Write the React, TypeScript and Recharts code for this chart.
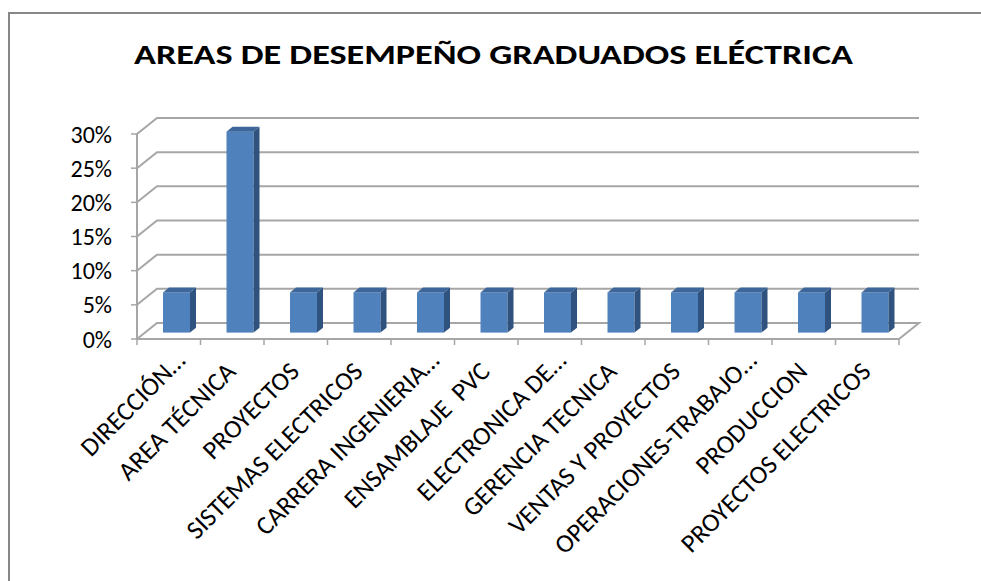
import React from "react";
import { BarChart, Bar, XAxis, YAxis, CartesianGrid } from "recharts";

// areas de desempeño (etiquetas tal como salen en el eje, ya recortadas)
const areas = [
  "DIRECCIÓN…",
  "AREA TÉCNICA",
  "PROYECTOS",
  "SISTEMAS ELECTRICOS",
  "CARRERA INGENIERIA…",
  "ENSAMBLAJE  PVC",
  "ELECTRONICA DE…",
  "GERENCIA TECNICA",
  "VENTAS Y PROYECTOS",
  "OPERACIONES-TRABAJO…",
  "PRODUCCION",
  "PROYECTOS ELECTRICOS",
];

// share of graduates per area (1/17 each, 5/17 for area tecnica)
const shares = [
  0.0588, 0.2941, 0.0588, 0.0588, 0.0588, 0.0588, 0.0588, 0.0588, 0.0588,
  0.0588, 0.0588, 0.0588,
];

const shareTicks = [0, 0.05, 0.1, 0.15, 0.2, 0.25, 0.3];

const chartTitle = "AREAS DE DESEMPEÑO GRADUADOS ELÉCTRICA";

const FONT = "Carlito, Lato, 'Open Sans', sans-serif";
const W = 981;
const H = 581;
const PLOT = { left: 137, right: 899, top: 134, bottom: 339 };
// offset of the back wall vs the front plane (fake 3d)
const WALL = { dx: 20, dy: 16 };
const BAR_SHIFT = 0.4;
const BAR_DEPTH = 0.3;
const GRID = "#a6a6a6";

const data = areas.map((area, i) => ({ area, share: shares[i] }));

function wallLine(props: any) {
  const { x1, x2, y1 } = props;
  const by = y1 - WALL.dy;
  let d = `M${x1},${y1} L${x1 + WALL.dx},${by} L${x2 + WALL.dx},${by}`;
  if (Math.abs(y1 - PLOT.bottom) < 1) d += ` L${x2},${y1}`;
  return (
    <path
      key={`wall-${y1}`}
      d={d}
      fill="none"
      stroke={GRID}
      strokeWidth={2}
    />
  );
}

function Column3D(props: any) {
  const { x, y, width, height } = props;
  if (!height) return null;
  const sx = x + WALL.dx * BAR_SHIFT;
  const sy = y - WALL.dy * BAR_SHIFT;
  const ddx = WALL.dx * BAR_DEPTH;
  const ddy = WALL.dy * BAR_DEPTH;
  const r = sx + width;
  const b = sy + height;
  return (
    <g>
      <rect x={sx} y={sy} width={width} height={height} fill="#4f81bd" />
      <path
        d={`M${r},${sy} L${r + ddx},${sy - ddy} L${r + ddx},${b - ddy} L${r},${b} Z`}
        fill="#30527f"
      />
      <path
        d={`M${sx},${sy} L${sx + ddx},${sy - ddy} L${r + ddx},${sy - ddy} L${r},${sy} Z`}
        fill="#3d679a"
      />
    </g>
  );
}

function AreaTick(props: any) {
  const { x, payload, index } = props;
  const band = (PLOT.right - PLOT.left) / areas.length;
  const y0 = PLOT.bottom;
  const left = x - band / 2;
  // truncated labels sit a bit further up the diagonal in the original
  const cut = String(payload.value).endsWith("…");
  const ax = x + (cut ? 18 : 5);
  const ay = y0 + (cut ? 23 : 34);
  return (
    <g>
      <line x1={left} y1={y0} x2={left} y2={y0 + 6} stroke={GRID} strokeWidth={1.5} />
      {index === areas.length - 1 && (
        <line x1={x + band / 2} y1={y0} x2={x + band / 2} y2={y0 + 6} stroke={GRID} strokeWidth={1.5} />
      )}
      <text
        x={ax}
        y={ay}
        transform={`rotate(-45 ${ax} ${ay})`}
        textAnchor="end"
        fontSize={26}
        fontFamily={FONT}
        fill="#000"
        style={{ whiteSpace: "pre" }}
      >
        {payload.value}
      </text>
    </g>
  );
}

export default function App() {
  return (
    <div
      style={{
        position: "fixed",
        left: 0,
        top: 0,
        width: W,
        height: H,
        overflow: "hidden",
        background: "#fff",
      }}
    >
      <div
        style={{
          position: "absolute",
          left: 8,
          top: 12,
          width: W + 100,
          height: H + 100,
          borderLeft: "2px solid #878787",
          borderTop: "2px solid #878787",
        }}
      />
      <div style={{ position: "absolute", left: 0, top: 0 }}>
        <BarChart
          width={W}
          height={H}
          data={data}
          margin={{ top: PLOT.top, right: W - PLOT.right, bottom: 0, left: 0 }}
          barSize={27}
        >
          <text
            x={493.5}
            y={64}
            textAnchor="middle"
            fontFamily={FONT}
            fontWeight="bold"
            fontSize={29}
            textLength={719}
            lengthAdjust="spacingAndGlyphs"
            fill="#000"
          >
            {chartTitle}
          </text>
          <CartesianGrid vertical={false} horizontal={wallLine} />
          <XAxis
            dataKey="area"
            height={H - PLOT.bottom}
            interval={0}
            tickLine={false}
            axisLine={{ stroke: GRID, strokeWidth: 2 }}
            tick={AreaTick}
          />
          <YAxis
            width={PLOT.left}
            domain={[0, 0.3]}
            ticks={shareTicks}
            tickFormatter={(v: number) => `${Math.round(v * 100)}%`}
            tickSize={6}
            tickMargin={19}
            axisLine={{ stroke: GRID, strokeWidth: 2 }}
            tickLine={{ stroke: GRID, strokeWidth: 1.5 }}
            tick={{ fill: "#000", fontSize: 24, fontFamily: FONT }}
          />
          <Bar
            dataKey="share"
            shape={Column3D}
            isAnimationActive={false}
          />
        </BarChart>
      </div>
    </div>
  );
}
